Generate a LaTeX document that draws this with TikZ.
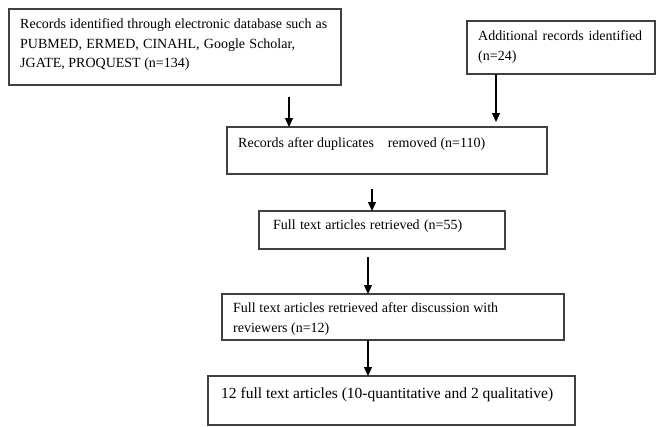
\documentclass[tikz,border=0pt]{standalone}
\usepackage{fontspec}
\setmainfont{Liberation Serif}
\usetikzlibrary{arrows.meta}
\begin{document}
\begin{tikzpicture}[x=1pt,y=-1pt,
  box/.style={draw=black!75, line width=1.2pt, anchor=north west, inner sep=0pt, outer sep=0pt},
  txt/.style={anchor=base west, inner sep=0pt, font=\fontsize{14}{19}\selectfont},
  arr/.style={draw=black, line width=1.2pt, -{Triangle[width=8pt,length=9pt]}}]
\useasboundingbox (0,0) rectangle (656,426);
\node[box, minimum width=332pt, minimum height=76pt] (b1) at (9,9) {};
\node[box, minimum width=188pt, minimum height=53pt] (b2) at (467,21) {};
\node[box, minimum width=320pt, minimum height=47pt] (b3) at (227,127) {};
\node[box, minimum width=246pt, minimum height=38pt] (b4) at (259,211) {};
\node[box, minimum width=342pt, minimum height=46pt] (b5) at (222,294) {};
\node[box, minimum width=367pt, minimum height=49pt] (b6) at (208,376) {};
\node[txt] (t1a) at (20,28) {\makebox[307pt][s]{Records identified through electronic database such as}};
\node[txt] (t1b) at (20,48) {\makebox[275pt][s]{PUBMED, ERMED, CINAHL, Google Scholar,}};
\node[txt] (t1c) at (20,67) {JGATE, PROQUEST (n=134)};
\node[txt] (t2a) at (478,40) {\makebox[164pt][s]{Additional records identified}};
\node[txt] (t2b) at (478,60) {(n=24)};
\node[txt] (t3) at (238,147) {\makebox[247pt][s]{Records after duplicates\hspace{10pt} removed (n=110)}};
\node[txt] (t4) at (273,229) {\makebox[189pt][s]{Full text articles retrieved (n=55)}};
\node[txt] (t5a) at (233,312) {\makebox[265pt][s]{Full text articles retrieved after discussion with}};
\node[txt] (t5b) at (233,332) {reviewers (n=12)};
\node[txt, font=\fontsize{15.5}{19}\selectfont] (t6) at (221,398) {\makebox[332pt][s]{12 full text articles (10-quantitative and 2 qualitative)}};
\coordinate (s1) at (289,97);
\coordinate (s3) at (372,189);
\coordinate (s4) at (368,257);
\path[arr] (s1) -- (s1 |- b3.north);
\path[arr] (b2.south -| 496,0) -- (496,122);
\path[arr] (s3) -- (s3 |- b4.north);
\path[arr] (s4) -- (s4 |- b5.north);
\path[arr] (b5.south -| s4) -- (b6.north -| s4);
\end{tikzpicture}
\end{document}
